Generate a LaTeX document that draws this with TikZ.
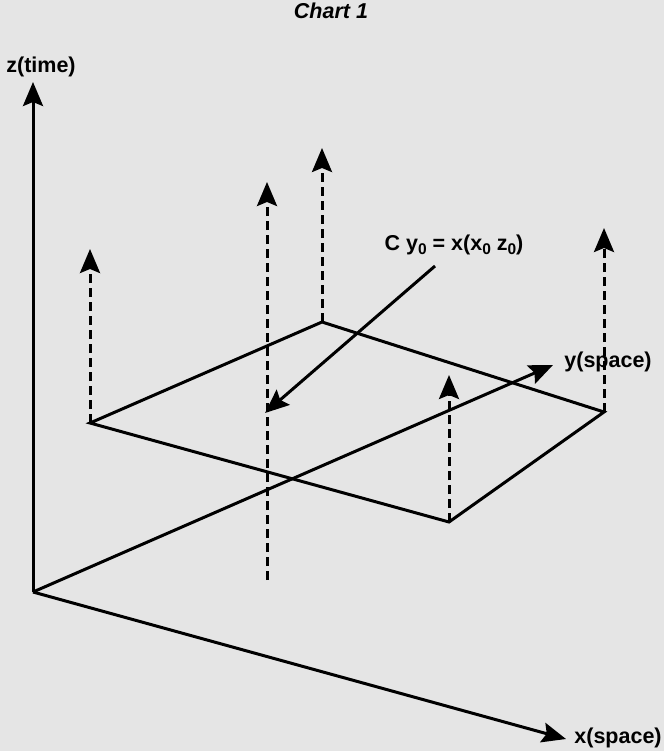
\documentclass[tikz,border=0pt]{standalone}
\usepackage{fontspec}
\setmainfont{Liberation Sans}
\usetikzlibrary{arrows.meta}
\newcommand{\lowzero}{\raisebox{-4.5pt}{\fontsize{15.5}{17}\selectfont 0}}

\begin{document}
\begin{tikzpicture}[x=1pt,y=-1pt,line width=3pt,
    tip/.style={-{Stealth[length=24pt,width=20pt,inset=4pt]}},
    riser/.style={tip,dash pattern=on 9pt off 5pt},
    lbl/.style={font=\fontsize{21.5}{25}\selectfont\bfseries,inner sep=0pt}]
   \fill[black!10] (0,0) rectangle (664,751);
   \useasboundingbox (0,0) rectangle (664,751);
   \node[lbl,font=\fontsize{21.5}{25}\selectfont\bfseries\itshape] (title) at (331,11) {Chart 1};
   % axes
   \coordinate (O) at (33,592);
   \coordinate (zend) at (33,82);
   \coordinate (yend) at (553,365);
   \coordinate (xend) at (566,739);
   \draw[tip] (O) -- (zend);
   \draw[tip] (O) -- (yend);
   \draw[tip] (O) -- (xend);
   \node[lbl] (zlbl) at (41,67) {z(time)};
   \node[lbl] (ylbl) at (608,362) {y(space)};
   \node[lbl] (xlbl) at (618,738) {x(space)};
   % plane
   \coordinate (p1) at (90,423);
   \coordinate (p2) at (322,322);
   \coordinate (p3) at (604,412);
   \coordinate (p4) at (449,522);
   \draw (p1) -- (p2) -- (p3) -- (p4) -- cycle;
   % vertical lines
   \coordinate (q1) at (90,249);
   \coordinate (q2) at (322,148);
   \coordinate (q3) at (604,228);
   \coordinate (q4) at (449,375);
   \coordinate (cbot) at (267,580);
   \coordinate (ctop) at (267,182);
   \draw[riser] (p1) -- (q1);
   \draw[riser] (p2) -- (q2);
   \draw[riser] (p3) -- (q3);
   \draw[riser] (p4) -- (q4);
   \draw[riser] (cbot) -- (ctop);
   % curve label
   \node[lbl] (clbl) at (454,245) {C y\lowzero{} = x(x\lowzero{} z\lowzero)};
   \coordinate (cfrom) at (435,266);
   \coordinate (cto) at (265,413);
   \draw[tip] (cfrom) -- (cto);
\end{tikzpicture}
\end{document}
